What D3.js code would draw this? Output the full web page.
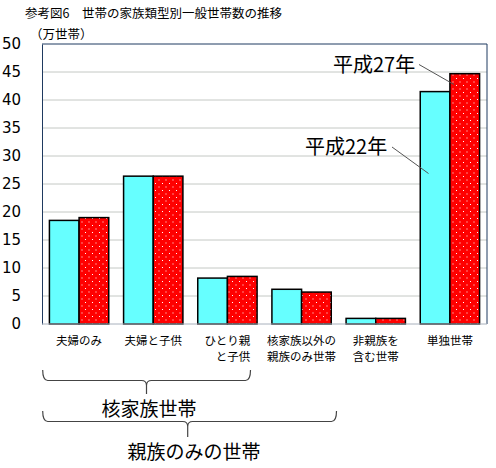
<!DOCTYPE html>
<html>
<head>
<meta charset="utf-8">
<script src="https://cdn.jsdelivr.net/npm/d3@7/dist/d3.min.js"></script>
<style>
  body { margin: 0; background: #fff; }
  svg { display: block; }
  text { font-family: "Noto Sans CJK JP", "Noto Sans", sans-serif; fill: #000; }
</style>
</head>
<body>
<svg id="chart" width="496" height="468"></svg>
<script>
// ---- data ----
const categories = ["夫婦のみ", "夫婦と子供", "ひとり親と子供", "核家族以外の親族のみ世帯", "非親族を含む世帯", "単独世帯"];
const categoryLabels = [["夫婦のみ"], ["夫婦と子供"], ["ひとり親", "と子供"], ["核家族以外の", "親族のみ世帯"], ["非親族を", "含む世帯"], ["単独世帯"]];
const seriesNames = ["平成22年", "平成27年"];
const valuesH22 = [18.5, 26.4, 8.2, 6.2, 1.0, 41.5];
const valuesH27 = [19.0, 26.4, 8.5, 5.7, 1.0, 44.7];
const yTicks = [0, 5, 10, 15, 20, 25, 30, 35, 40, 45, 50];
const titleText = "参考図6　世帯の家族類型別一般世帯数の推移";
const unitText = "（万世帯）";
const groupLabels = ["核家族世帯", "親族のみの世帯"];

// ---- layout ----
const svg = d3.select("#chart");
const L = 42, R = 487, T = 44, B = 324;

const x = d3.scaleBand().domain(categories).range([L, R]).paddingInner(0.2).paddingOuter(0.1);
const xs = d3.scaleBand().domain(seriesNames).range([0, x.bandwidth()]);
const y = d3.scaleLinear().domain([0, 50]).range([B, T]);

// dotted pattern for red bars
const defs = svg.append("defs");
const pat = defs.append("pattern").attr("id", "dots").attr("patternUnits", "userSpaceOnUse")
  .attr("width", 7).attr("height", 7);
pat.append("rect").attr("width", 7).attr("height", 7).attr("fill", "#FF0000");
pat.append("rect").attr("x", 1).attr("y", 1).attr("width", 1).attr("height", 1).attr("fill", "#fff");
pat.append("rect").attr("x", 4.5).attr("y", 4.5).attr("width", 1).attr("height", 1).attr("fill", "#fff");

// gridlines
svg.append("g").selectAll("line").data(yTicks.filter(d => d > 0 && d < 50)).join("line")
  .attr("x1", L).attr("x2", R).attr("y1", d => y(d)).attr("y2", d => y(d))
  .attr("stroke", "#C4C8C4").attr("stroke-width", 1);

// frame top/right
svg.append("line").attr("x1", L).attr("x2", R).attr("y1", y(50)).attr("y2", y(50)).attr("stroke", "#1F3A60").attr("stroke-width", 1);
svg.append("line").attr("x1", R).attr("x2", R).attr("y1", y(50)).attr("y2", y(0)).attr("stroke", "#1F3A60").attr("stroke-width", 1);

// bars
const series = [
  { name: seriesNames[0], values: valuesH22, fill: "#66FFFF" },
  { name: seriesNames[1], values: valuesH27, fill: "url(#dots)" }
];
series.forEach(s => {
  svg.append("g").selectAll("rect").data(categories).join("rect")
    .attr("x", (c) => x(c) + xs(s.name))
    .attr("y", (c, i) => y(s.values[i]))
    .attr("width", xs.bandwidth())
    .attr("height", (c, i) => y(0) - y(s.values[i]))
    .attr("fill", s.fill)
    .attr("stroke", "#000").attr("stroke-width", 1.5);
});

// y axis
const yAxis = svg.append("g").attr("transform", `translate(${L},0)`)
  .call(d3.axisLeft(y).tickValues(yTicks).tickSize(0).tickPadding(21).tickFormat(d3.format("d")));
yAxis.select(".domain").attr("stroke", "#1F3A60").attr("stroke-width", 1);
yAxis.selectAll("text").style("font-family", "'DejaVu Sans', sans-serif").style("font-size", "15px").attr("fill", "#000");

// x axis line
svg.append("line").attr("x1", L).attr("x2", R).attr("y1", y(0)).attr("y2", y(0)).attr("stroke", "#A8B0BC").attr("stroke-width", 1);

// category labels (one text element per category, lines as tspans)
categoryLabels.forEach((lines, i) => {
  const cx = x(categories[i]) + x.bandwidth() / 2;
  const t = svg.append("text").style("font-size", "11.5px");
  const s1 = t.append("tspan").attr("x", cx).attr("y", 344.5).attr("text-anchor", "middle").text(lines[0]);
  if (lines.length > 1) {
    const w = s1.node().getComputedTextLength();
    t.append("tspan").attr("x", cx + w / 2).attr("y", 361.3).attr("text-anchor", "end").text(lines[1]);
  }
});

// title
svg.append("text").attr("x", 25).attr("y", 18).style("font-size", "12.5px").text(titleText);
svg.append("text").attr("x", 30).attr("y", 38.5).style("font-size", "12.5px").text(unitText);

// series annotations
svg.append("text").attr("x", 333).attr("y", 72).style("font-size", "20px").text(seriesNames[1]);
svg.append("line").attr("x1", 419).attr("y1", 64.5).attr("x2", 454).attr("y2", 84.5).attr("stroke", "#555").attr("stroke-width", 1);
svg.append("text").attr("x", 305).attr("y", 154).style("font-size", "20px").text(seriesNames[0]);
svg.append("line").attr("x1", 392).attr("y1", 147).attr("x2", 428.5).attr("y2", 173.5).attr("stroke", "#555").attr("stroke-width", 1);

// braces
function brace(x1, x2, xm, yTop, yH, yBot) {
  const r = 5;
  return `M${x1},${yTop} Q${x1},${yH} ${x1 + r},${yH} L${xm - r},${yH} Q${xm},${yH} ${xm},${yH + r} L${xm},${yBot}` +
         ` M${x2},${yTop} Q${x2},${yH} ${x2 - r},${yH} L${xm + r},${yH} Q${xm},${yH} ${xm},${yH + r}`;
}
svg.append("path").attr("d", brace(42.7, 250.5, 146.5, 370, 380.5, 394))
  .attr("fill", "none").attr("stroke", "#444").attr("stroke-width", 1.2);
svg.append("path").attr("d", brace(42.7, 336.5, 187.7, 411, 421.5, 437))
  .attr("fill", "none").attr("stroke", "#444").attr("stroke-width", 1.2);

svg.append("text").attr("x", 149).attr("y", 415.5).attr("text-anchor", "middle").style("font-size", "19px").text(groupLabels[0]);
svg.append("text").attr("x", 194).attr("y", 458.5).attr("text-anchor", "middle").style("font-size", "19px").text(groupLabels[1]);
</script>
</body>
</html>
